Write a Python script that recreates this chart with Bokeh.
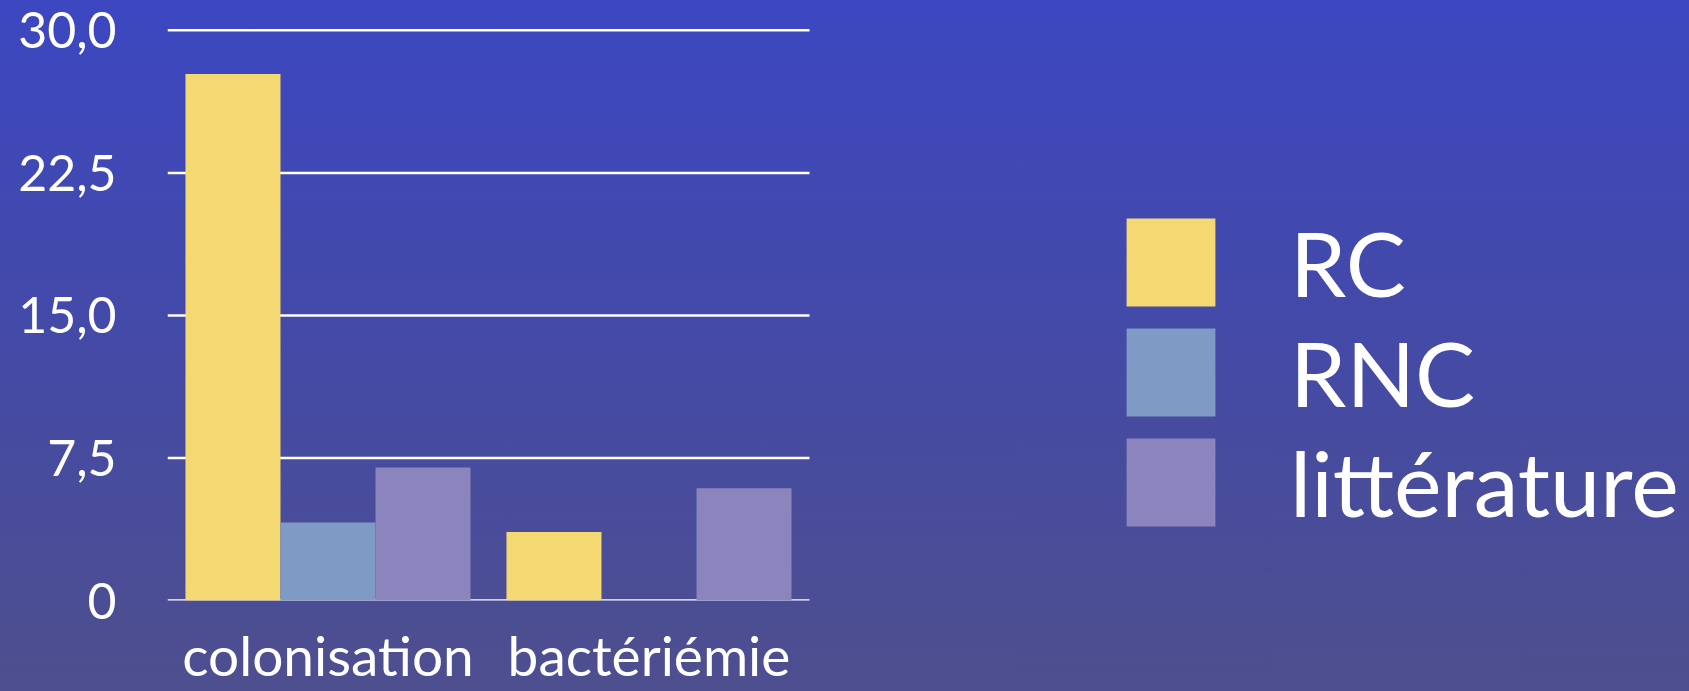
from bokeh.plotting import figure
from bokeh.models import ColumnDataSource, Range1d, Legend, LegendItem, FixedTicker
from bokeh.transform import dodge
from bokeh.embed import file_html
from bokeh.resources import INLINE

categories = ["colonisation", "bactériémie"]
series_names = ["RC", "RNC", "littérature"]
rc = [27.7, 3.6]
rnc = [4.1, 0.0]
litterature = [7.0, 5.9]
y_ticks = [0, 7.5, 15, 22.5, 30]
y_tick_labels = ["0", "7,5", "15,0", "22,5", "30,0"]
colors = ["#F4D872", "#7F9AC4", "#8C84BC"]

idx = list(range(len(categories)))
source = ColumnDataSource(dict(x=idx, RC=rc, RNC=rnc, lit=litterature))

W, H = 1689, 691
LEFT, TOP, BOTTOM = 167, 27, 91
cat_px = 321.0
frame_w = W - LEFT
x_start = -0.5
x_end = x_start + frame_w / cat_px

p = figure(width=W, height=H, x_range=Range1d(x_start, x_end),
           y_range=Range1d(0, 30.15), output_backend="svg", toolbar_location=None,
           min_border_left=LEFT, min_border_right=0, min_border_top=TOP, min_border_bottom=BOTTOM)
p.styles = {"background": "linear-gradient(to bottom, #3C47C1 0%, #444AA6 50%, #4E4F8E 100%)"}
p.background_fill_alpha = 0
p.border_fill_alpha = 0
p.outline_line_color = None

# horizontal grid lines across the category area only
n = len(categories)
p.segment(x0=[-0.5] * len(y_ticks), x1=[n - 0.5] * len(y_ticks), y0=y_ticks, y1=y_ticks,
          line_color="white", line_width=2.5)

bw = 0.296
fields = ["RC", "RNC", "lit"]
offsets = [-bw, 0, bw]
renderers = []
for f, off, c in zip(fields, offsets, colors):
    r = p.vbar(x=dodge("x", off), top=f, width=bw, source=source,
               fill_color=c, line_color=None)
    renderers.append(r)

p.xaxis.ticker = FixedTicker(ticks=idx)
p.xaxis.major_label_overrides = {i: c for i, c in zip(idx, categories)}
p.yaxis.ticker = FixedTicker(ticks=y_ticks)
p.yaxis.major_label_overrides = {t: l for t, l in zip(y_ticks, y_tick_labels)}
for ax in (p.xaxis, p.yaxis):
    ax.axis_line_color = None
    ax.major_tick_line_color = None
    ax.minor_tick_line_color = None
    ax.major_label_text_color = "white"
    ax.major_label_text_font = "Lato"
p.yaxis.major_label_text_font_size = "50px"
p.yaxis.major_label_standoff = 45
p.xaxis.major_label_text_font_size = "55px"
p.xaxis.major_label_standoff = 15

p.xgrid.grid_line_color = None
p.ygrid.grid_line_color = None

legend = Legend(items=[LegendItem(label=s, renderers=[r]) for s, r in zip(series_names, renderers)],
                location=(948, 63),
                glyph_width=111, glyph_height=110, label_standoff=64, spacing=0,
                label_text_font="Lato", label_text_font_size="90px", label_text_color="white",
                background_fill_alpha=0, border_line_color=None, padding=10, margin=0)
p.add_layout(legend, "center")

open("out.html", "w").write(file_html(p, INLINE))
